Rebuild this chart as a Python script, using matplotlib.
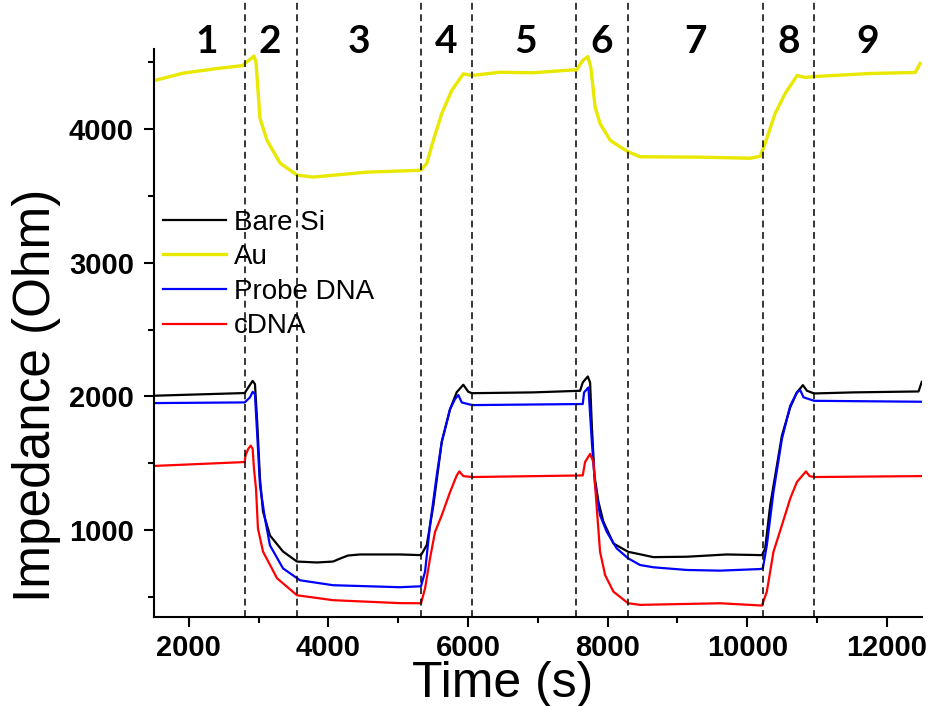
import numpy as np
import matplotlib
matplotlib.use("Agg")
import matplotlib.pyplot as plt
import matplotlib.transforms as mtransforms
from matplotlib.ticker import MultipleLocator

plt.rcParams['font.family'] = ['Liberation Sans', 'DejaVu Sans']

# time (s) / impedance (Ohm)
t_bare = [1500, 2800, 2851, 2914, 2947, 2980, 3019, 3062, 3162, 3349, 3549, 3836, 4065, 4180, 4280,
          4452, 5025, 5326, 5408, 5503, 5623, 5742, 5838, 5932, 6004, 6057, 6931, 7605, 7643, 7715,
          7748, 7773, 7810, 7867, 7938, 8082, 8293, 8655, 9134, 9707, 10209, 10256, 10328, 10424,
          10496, 10615, 10711, 10797, 10855, 10958, 11521, 12453, 12500]
z_bare = [2005, 2025, 2067, 2116, 2092, 1800, 1384, 1140, 960, 840, 765, 758, 765, 790, 810,
          818, 818, 813, 888, 1185, 1660, 1905, 2032, 2087, 2034, 2024, 2030, 2042, 2104, 2149,
          2104, 1781, 1409, 1213, 1064, 900, 838, 798, 801, 818, 813, 863, 1185, 1483,
          1707, 1918, 2030, 2084, 2042, 2022, 2030, 2037, 2109]

t_au = [1514, 1916, 2403, 2775, 2800, 2876, 2933, 2962, 3019, 3119, 3306, 3549, 3778, 4552, 5269,
        5326, 5408, 5503, 5623, 5766, 5932, 6057, 6458, 6931, 7509, 7547, 7643, 7715, 7758, 7820,
        7891, 8035, 8178, 8293, 8465, 9324, 10041, 10184, 10256, 10399, 10542, 10714, 10829, 10972,
        11760, 12405, 12477]
z_au = [4363, 4417, 4452, 4474, 4490, 4520, 4545, 4500, 4080, 3916, 3745, 3655, 3640, 3677, 3690,
        3693, 3742, 3916, 4115, 4288, 4412, 4400, 4424, 4420, 4442, 4437, 4512, 4541, 4462, 4164,
        4040, 3916, 3866, 3829, 3792, 3789, 3781, 3796, 3893, 4116, 4265, 4400, 4385, 4392,
        4415, 4422, 4490]

t_probe = [1500, 2800, 2876, 2914, 2947, 2980, 3019, 3090, 3162, 3349, 3592, 4065, 5025, 5326, 5384,
           5455, 5551, 5623, 5742, 5813, 5861, 5909, 6057, 7643, 7662, 7724, 7773, 7820, 7891, 7987,
           8130, 8293, 8465, 8655, 9134, 9611, 10184, 10223, 10280, 10375, 10496, 10615, 10711,
           10758, 10806, 10958, 12500]
z_probe = [1950, 1955, 1993, 2034, 2017, 1707, 1334, 1087, 886, 714, 625, 588, 573, 580, 690,
           1037, 1409, 1660, 1905, 1980, 2010, 1955, 1935, 1943, 2030, 2067, 1660, 1334, 1111, 987,
           863, 789, 739, 722, 702, 697, 709, 714, 888, 1285, 1682, 1930, 2030,
           2047, 1993, 1967, 1960]

t_cdna = [1500, 2800, 2811, 2851, 2886, 2914, 2933, 2962, 2990, 3062, 3263, 3549, 4065, 5025, 5326,
          5384, 5455, 5527, 5623, 5742, 5838, 5875, 5932, 6057, 7643, 7676, 7748, 7796, 7844, 7891,
          7963, 8082, 8293, 8465, 9611, 10209, 10280, 10375, 10496, 10615, 10711, 10840, 10892,
          10958, 12500]
z_cdna = [1480, 1509, 1558, 1608, 1632, 1608, 1459, 1310, 1012, 840, 640, 513, 476, 454, 453,
          565, 789, 987, 1111, 1285, 1409, 1439, 1404, 1397, 1409, 1509, 1570, 1509, 1161, 838,
          664, 540, 453, 441, 453, 436, 540, 838, 1037, 1236, 1360, 1439, 1404,
          1397, 1404]

step_bounds = [2800, 3545, 5325, 6060, 7547, 8293, 10223, 10960]
step_names = ['1', '2', '3', '4', '5', '6', '7', '8', '9']
step_label_x = [2260, 3165, 4440, 5690, 6830, 7920, 9255, 10590, 11730]

fig = plt.figure(figsize=(9.33, 7.06), dpi=100)
ax = fig.add_axes([0.165, 0.126, 0.823, 0.805])

ax.plot(t_bare, z_bare, color='black', lw=1.6, label='Bare Si')
ax.plot(t_au, z_au, color='#e8e800', lw=2.4, label='Au')
ax.plot(t_probe, z_probe, color='#0000ff', lw=1.6, label='Probe DNA')
ax.plot(t_cdna, z_cdna, color='#ff0000', lw=1.6, label='cDNA')

trans = mtransforms.blended_transform_factory(ax.transData, ax.transAxes)
for b in step_bounds:
    ax.plot([b, b], [0, 1.09], transform=trans, color='black', lw=1.1,
            dashes=(4.5, 3), clip_on=False)
for name, xl in zip(step_names, step_label_x):
    ax.text(xl, 1.012, name, transform=trans, ha='center', va='center',
            fontsize=28, fontweight='bold', family=['Lato', 'DejaVu Sans'])

ax.set_xlim(1500, 12500)
ax.set_ylim(350, 4600)
ax.xaxis.set_major_locator(MultipleLocator(2000))
ax.xaxis.set_minor_locator(MultipleLocator(1000))
ax.yaxis.set_major_locator(MultipleLocator(1000))
ax.yaxis.set_minor_locator(MultipleLocator(500))
ax.set_yticks([1000, 2000, 3000, 4000])

for s in ['top', 'right']:
    ax.spines[s].set_visible(False)
for s in ['left', 'bottom']:
    ax.spines[s].set_linewidth(1.5)

ax.tick_params(which='major', direction='out', length=7.5, width=1.5, labelsize=21, pad=5)
ax.tick_params(axis='y', which='major', pad=7)
ax.tick_params(which='minor', direction='out', length=4, width=1.5)
for lab in ax.get_xticklabels() + ax.get_yticklabels():
    lab.set_fontweight('bold')

fig.text(503 / 933, 1 - 697 / 706, 'Time (s)', ha='center', va='baseline', fontsize=36)
fig.text(50 / 933, 1 - 395 / 706, 'Impedance (Ohm)', ha='center', va='baseline',
         rotation=90, rotation_mode='anchor', fontsize=37)

ax.legend(loc='upper left', bbox_to_anchor=(0.012, 0.717), frameon=False, fontsize=20,
          handlelength=2.25, handletextpad=0.3, labelspacing=0.31, borderpad=0, borderaxespad=0)

fig.savefig('out.png', dpi=100)
